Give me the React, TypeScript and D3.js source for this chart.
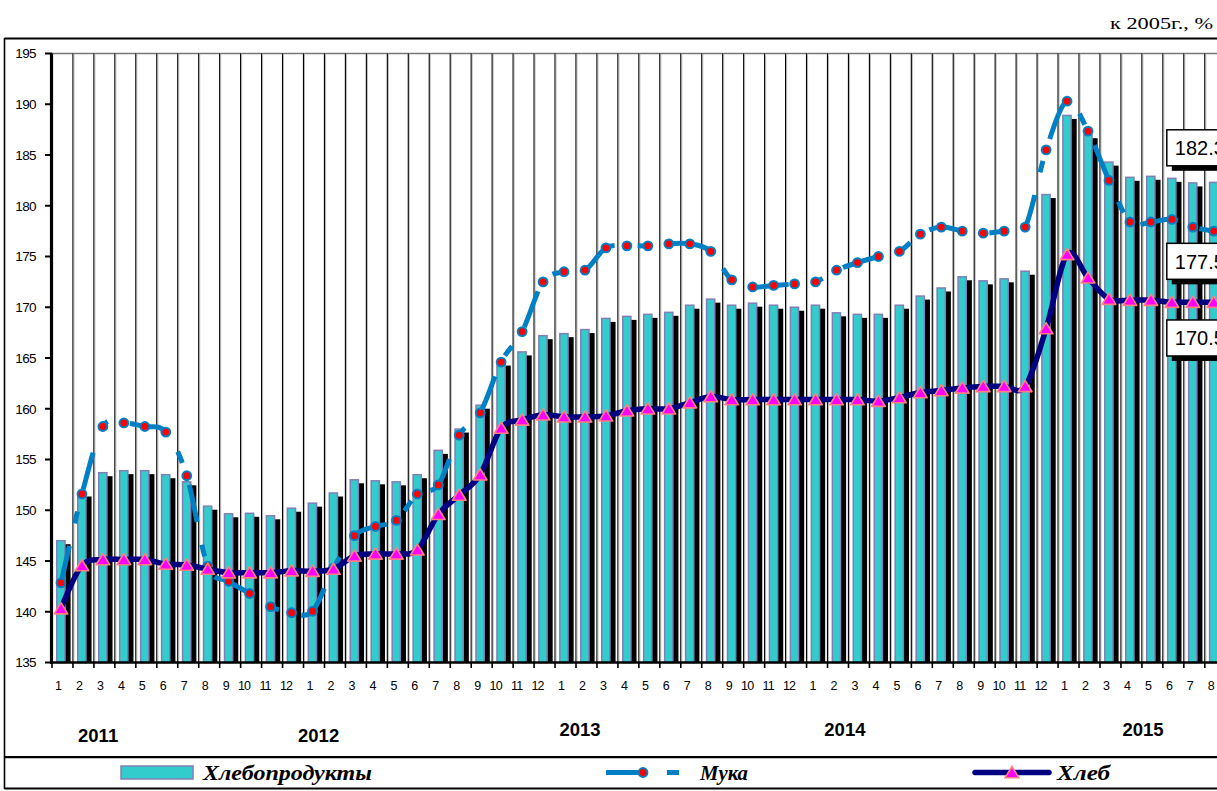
import React from 'react';
import * as d3 from 'd3';

// ---------- data ----------
const months = [
  '1','2','3','4','5','6','7','8','9','10','11','12',
  '1','2','3','4','5','6','7','8','9','10','11','12',
  '1','2','3','4','5','6','7','8','9','10','11','12',
  '1','2','3','4','5','6','7','8','9','10','11','12',
  '1','2','3','4','5','6','7','8',
];
const years = ['2011', '2012', '2013', '2014', '2015'];

const khleboprodukty = [
  147.0, 151.7, 153.7, 153.9, 153.9, 153.5, 152.8, 150.4, 149.65, 149.7, 149.45, 150.2,
  150.7, 151.7, 153.0, 152.9, 152.8, 153.5, 155.9, 158.0, 160.35, 164.6, 165.6, 167.2,
  167.4, 167.8, 168.9, 169.1, 169.3, 169.5, 170.2, 170.8, 170.2, 170.4, 170.2, 170.0,
  170.2, 169.45, 169.3, 169.3, 170.2, 171.1, 171.9, 173.0, 172.6, 172.8, 173.55, 181.1,
  188.9, 187.0, 184.3, 182.8, 182.9, 182.7, 182.25, 182.3,
];
const muka = [
  142.85, 151.6, 158.25, 158.6, 158.25, 157.7, 153.4, 144.5, 143.0, 141.8, 140.5, 139.9,
  140.05, 144.3, 147.5, 148.4, 149.0, 151.6, 152.5, 157.4, 159.6, 164.6, 167.6, 172.5,
  173.5, 173.65, 175.85, 176.05, 176.05, 176.25, 176.25, 175.5, 172.7, 172.0, 172.15, 172.3,
  172.5, 173.65, 174.4, 175.0, 175.5, 177.2, 177.9, 177.5, 177.3, 177.5, 177.9, 185.5,
  190.3, 187.35, 182.5, 178.4, 178.4, 178.65, 177.9, 177.5,
];
const khleb = [
  140.3, 144.55, 145.15, 145.15, 145.15, 144.7, 144.6, 144.2, 143.85, 143.85, 143.85, 144.05,
  144.0, 144.2, 145.5, 145.7, 145.7, 146.1, 149.6, 151.5, 153.5, 158.1, 158.9, 159.4,
  159.2, 159.2, 159.3, 159.8, 160.0, 160.0, 160.6, 161.2, 160.9, 160.9, 160.9, 160.9,
  160.9, 160.9, 160.9, 160.75, 161.1, 161.6, 161.8, 162.05, 162.2, 162.2, 162.2, 167.9,
  175.2, 172.9, 170.8, 170.7, 170.7, 170.5, 170.5, 170.5,
];
const yTicks = [135, 140, 145, 150, 155, 160, 165, 170, 175, 180, 185, 190, 195];
const legendNames = ['Хлебопродукты', 'Мука', 'Хлеб'];
const unitLabel = 'к 2005г., %';

// ---------- layout ----------
const W = 1217, H = 791;
const plotLeft = 52, bandW = 20.96, plotTop = 53.5, plotBottom = 662.5;
const N = months.length;
const yearPos = [
  { at: 2.2, base: 742 },
  { at: 12.72, base: 742 },
  { at: 25.19, base: 736 },
  { at: 37.83, base: 736 },
  { at: 52.05, base: 736 },
];

const SANS = "'Liberation Sans', Arial, sans-serif";
const SERIF = "'Liberation Serif', 'Times New Roman', serif";
const TEAL = '#33CCCC';
const BAR_STROKE = '#7F7FB5';
const MUKA = '#0080C4';
const KHLEB = '#000080';

const tri = 'M0,-6 L6.8,5.2 L-6.8,5.2 Z';

export default function App() {
  const x = d3.scaleBand<number>()
    .domain(d3.range(N))
    .range([plotLeft, plotLeft + N * bandW])
    .paddingInner(0)
    .paddingOuter(0);
  const y = d3.scaleLinear().domain([135, 195]).range([plotBottom, plotTop]);
  const bs = (i: number) => x(i) as number;
  const cx = (i: number) => bs(i) + 9;

  const line = d3.line<number>()
    .x((_, i) => cx(i))
    .y((d) => y(d))
    .curve(d3.curveCardinal.tension(0));

  const boundaries = d3.range(1, N + 1).map((k) => plotLeft + k * bandW);
  const fmt = d3.format('.1f');

  const last = N - 1;
  const labels = [
    { v: khleboprodukty[last], dy: -34.6 },
    { v: muka[last], dy: 30.2 },
    { v: khleb[last], dy: 35.8 },
  ];
  const boxLeft = bs(last) - 38;

  return (
    <div style={{ position: 'absolute', left: 0, top: 0 }}>
      <svg width={W} height={H} style={{ display: 'block', background: '#fff' }}>
        <rect x={0} y={0} width={W} height={H} fill="#fff" />
        <text x={1213} y={29} textAnchor="end" fontFamily={SERIF}
          fontSize={17} textLength={103} lengthAdjust="spacingAndGlyphs" fill="#000">{unitLabel}</text>

        {/* outer frame */}
        <line x1={4.5} y1={38.5} x2={W} y2={38.5} stroke="#000" strokeWidth={2} />
        <line x1={4.5} y1={38} x2={4.5} y2={789} stroke="#000" strokeWidth={1.6} />
        <line x1={4.5} y1={757.2} x2={W} y2={757.2} stroke="#000" strokeWidth={2.2} />
        <line x1={4.5} y1={788.5} x2={W} y2={788.5} stroke="#000" strokeWidth={2.2} />

        <line x1={plotLeft} y1={plotTop} x2={W} y2={plotTop} stroke="#777" strokeWidth={1.4} />

        {/* vertical gridlines */}
        {boundaries.map((bx, k) => (
          <g key={'g' + k}>
            <line x1={bx} y1={plotTop} x2={bx} y2={plotBottom} stroke="#000" strokeWidth={1.2} />
            <line x1={bx + 1} y1={plotTop} x2={bx + 1} y2={plotBottom} stroke="#aaa" strokeWidth={0.8} />
          </g>
        ))}

        {/* bars: shadow + teal */}
        {khleboprodukty.map((v, i) => (
          <rect key={'s' + i} x={bs(i) + 10} y={y(v) + 3.5} width={8.6}
            height={plotBottom - y(v) - 3.5} fill="#000" />
        ))}
        {khleboprodukty.map((v, i) => (
          <rect key={'b' + i} x={bs(i) + 4.8} y={y(v)} width={8.2}
            height={plotBottom - y(v)} fill={TEAL} stroke={BAR_STROKE} strokeWidth={1.5} />
        ))}

        {/* axes */}
        <line x1={plotLeft - 0.5} y1={plotTop} x2={plotLeft - 0.5} y2={plotBottom + 1} stroke="#000" strokeWidth={3.2} />
        <line x1={plotLeft - 2} y1={plotBottom} x2={W} y2={plotBottom} stroke="#000" strokeWidth={2.6} />
        {yTicks.map((t) => (
          <g key={'yt' + t}>
            <line x1={45} y1={y(t)} x2={plotLeft} y2={y(t)} stroke="#000" strokeWidth={2} />
            <text x={36} y={y(t) + 4.8} textAnchor="end" fontFamily={SANS}
              fontSize={13.5} fill="#000" letterSpacing={-0.6}>{t}</text>
          </g>
        ))}
        {[plotLeft, ...boundaries].map((bx, k) => (
          <line key={'xt' + k} x1={bx} y1={plotBottom} x2={bx} y2={plotBottom + 5.5} stroke="#000" strokeWidth={1.6} />
        ))}
        {months.map((m, i) => (
          <text key={'m' + i} x={bs(i) + (m.length > 1 ? 3.5 : 6.5)} y={690} textAnchor="middle"
            fontFamily={SANS} fontSize={12.5} fill="#000"
            letterSpacing={m.length > 1 ? -0.8 : 0}>{m}</text>
        ))}
        {years.map((yr, j) => (
          <text key={'y' + yr} x={plotLeft + yearPos[j].at * bandW} y={yearPos[j].base} textAnchor="middle"
            fontFamily={SANS} fontWeight="bold" fontSize={18.5} fill="#000">{yr}</text>
        ))}

        {/* Мука line */}
        <path d={line(muka) || ''} fill="none" stroke={MUKA} strokeWidth={5}
          strokeDasharray="38,23,12,23" strokeLinejoin="round" />
        {muka.map((v, i) => (
          <circle key={'mk' + i} cx={cx(i)} cy={y(v)} r={4.4} fill="#FF0000" stroke={MUKA} strokeWidth={2} />
        ))}

        {/* Хлеб line */}
        <path d={line(khleb) || ''} fill="none" stroke={KHLEB} strokeWidth={5.5}
          strokeLinejoin="round" strokeLinecap="round" />
        {khleb.map((v, i) => (
          <path key={'kh' + i} d={tri} transform={`translate(${cx(i)},${y(v)})`}
            fill="#FF00FF" stroke="#FF8080" strokeWidth={1.6} strokeLinejoin="round" />
        ))}

        {/* data labels for last points (cut by the right edge, as in the source) */}
        {labels.map((l, j) => {
          const cy = y(l.v) + l.dy;
          return (
            <g key={'dl' + j}>
              <rect x={boxLeft + 5} y={cy - 18 + 5} width={90} height={36} fill="#000" />
              <rect x={boxLeft} y={cy - 18} width={90} height={36} fill="#fff" stroke="#000" strokeWidth={1.5} />
              <text x={boxLeft + 8} y={cy + 7.2} fontFamily={SANS} fontSize={20} fill="#000">{fmt(l.v)}</text>
            </g>
          );
        })}

        {/* legend */}
        <rect x={121} y={766} width={72} height={13} fill={TEAL} stroke={BAR_STROKE} strokeWidth={1.5} />
        <text x={203} y={780} fontFamily={SERIF} fontStyle="italic" fontWeight="bold" fontSize={20}
          textLength={169} lengthAdjust="spacingAndGlyphs" fill="#000">{legendNames[0]}</text>

        <line x1={606} y1={772.5} x2={680} y2={772.5} stroke={MUKA} strokeWidth={5} strokeDasharray="38,23,12,23" />
        <circle cx={643} cy={772.5} r={4.4} fill="#FF0000" stroke={MUKA} strokeWidth={2} />
        <text x={700} y={780} fontFamily={SERIF} fontStyle="italic" fontWeight="bold" fontSize={20}
          textLength={48} lengthAdjust="spacingAndGlyphs" fill="#000">{legendNames[1]}</text>

        <line x1={975} y1={772.5} x2={1049} y2={772.5} stroke={KHLEB} strokeWidth={5.5} strokeLinecap="round" />
        <path d={tri} transform="translate(1012,772.5)" fill="#FF00FF" stroke="#FF8080" strokeWidth={1.6} />
        <text x={1057} y={780} fontFamily={SERIF} fontStyle="italic" fontWeight="bold" fontSize={20}
          textLength={53} lengthAdjust="spacingAndGlyphs" fill="#000">{legendNames[2]}</text>
      </svg>
    </div>
  );
}
